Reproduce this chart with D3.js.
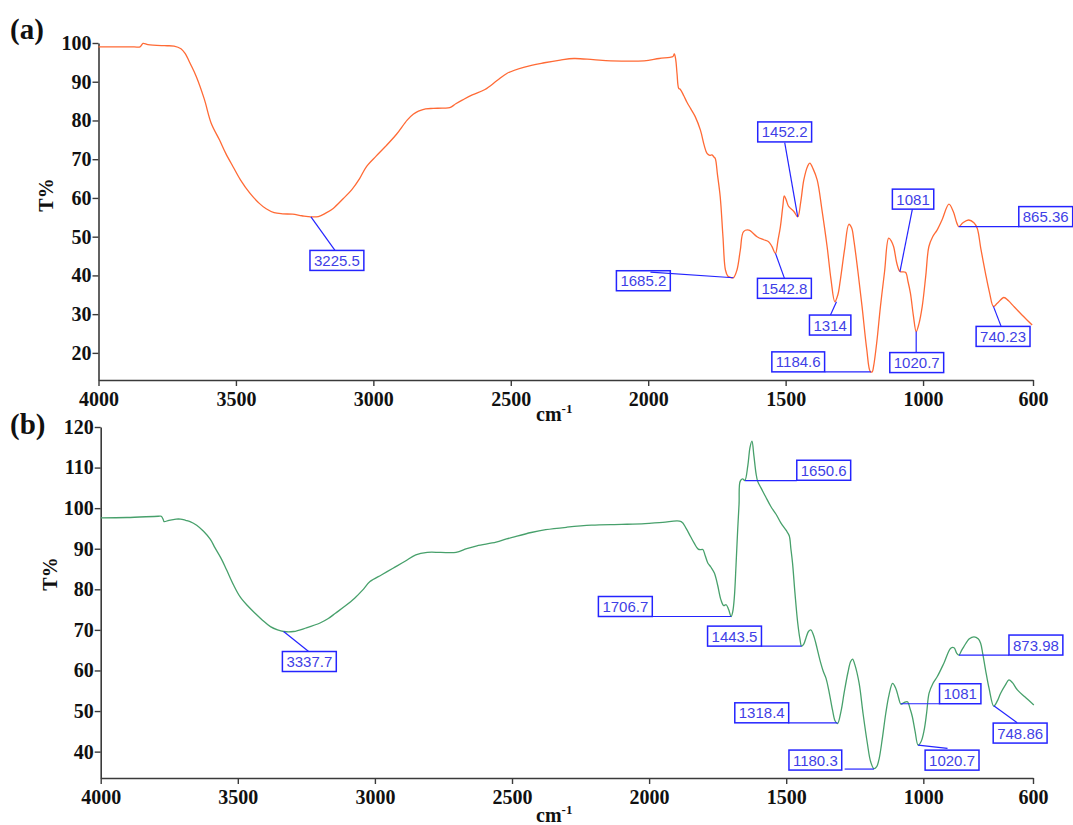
<!DOCTYPE html>
<html>
<head>
<meta charset="utf-8">
<script src="https://cdn.jsdelivr.net/npm/d3@7/dist/d3.min.js"></script>
<style>
  body { margin: 0; background: #fff; }
  svg { display: block; }
</style>
</head>
<body>
<div id="chart"></div>
<script>
"use strict";

// wavenumber ticks shared by both panels
var xTicks = [4000, 3500, 3000, 2500, 2000, 1500, 1000, 600];
var yTicksA = [20, 30, 40, 50, 60, 70, 80, 90, 100];
var yTicksB = [40, 50, 60, 70, 80, 90, 100, 110, 120];

// (a) spectrum
var waveA = [4000, 3870, 3849, 3838, 3820, 3760, 3725, 3700, 3685, 3665, 3644, 3615, 3590, 3560, 3537, 3510,
  3483, 3450, 3415, 3390, 3361, 3330, 3294, 3260, 3227, 3200, 3175, 3146, 3110, 3079, 3050, 3025, 2990, 2957,
  2915, 2877, 2855, 2836, 2810, 2782, 2750, 2722, 2700, 2675, 2640, 2594, 2550, 2513, 2450, 2378, 2320, 2270,
  2200, 2136, 2015, 1960, 1921, 1910, 1905, 1900, 1895, 1889, 1883, 1870, 1859, 1845, 1829, 1810, 1796, 1786,
  1776, 1768, 1760, 1756, 1748, 1738, 1728, 1719, 1710, 1701, 1690, 1677, 1665, 1653, 1634, 1604, 1580, 1562,
  1550, 1537, 1528, 1519, 1510, 1505, 1498, 1489, 1470, 1456, 1445, 1434, 1420, 1412, 1400, 1385, 1368, 1349,
  1335, 1321, 1310, 1301, 1285, 1270, 1260, 1252, 1237, 1222, 1205, 1192, 1185, 1180, 1168, 1155, 1140, 1125,
  1115, 1107, 1095, 1084, 1064, 1055, 1046, 1035, 1025, 1015, 1003, 990, 979, 965, 949, 930, 906, 890, 877,
  870, 855, 834, 815, 803, 790, 773, 758, 744, 730, 706, 690, 670, 640, 603];
var transA = [99.0, 99.0, 99.0, 99.9, 99.6, 99.3, 99.2, 98.5, 97.3, 94.5, 91.3, 85.5, 79.3, 75.0, 71.5, 68.0,
  64.6, 61.3, 58.6, 57.2, 56.2, 55.9, 55.8, 55.4, 55.1, 55.2, 56.0, 57.3, 59.8, 62.1, 65.0, 68.1, 70.8, 73.2,
  76.5, 80.1, 81.6, 82.4, 83.0, 83.1, 83.2, 83.3, 84.3, 85.3, 86.6, 88.0, 90.3, 92.2, 93.8, 94.9, 95.6, 96.0,
  95.7, 95.4, 95.4, 96.0, 96.3, 96.5, 97.2, 95.8, 92.0, 88.3, 88.0, 86.3, 84.7, 83.0, 81.0, 77.5, 73.5, 71.5,
  71.0, 71.1, 70.5, 70.2, 66.0, 60.3, 50.0, 41.4, 39.8, 39.5, 39.4, 41.4, 46.5, 51.3, 51.7, 50.0, 49.2, 48.7,
  47.5, 45.7, 49.0, 52.6, 58.0, 60.5, 59.5, 57.8, 56.5, 55.1, 59.0, 64.6, 68.2, 69.0, 67.5, 64.6, 57.0, 47.4,
  39.0, 33.2, 35.0, 38.8, 47.0, 53.2, 52.3, 49.2, 41.0, 32.0, 21.0, 15.2, 15.1, 16.5, 23.0, 32.0, 41.0, 49.6,
  48.8, 47.4, 43.0, 41.0, 40.8, 38.5, 35.4, 29.5, 25.5, 27.5, 32.0, 40.0, 47.4, 50.0, 51.7, 54.5, 58.4, 56.5,
  53.5, 52.6, 53.6, 54.3, 53.6, 52.2, 47.0, 40.6, 35.5, 32.0, 32.8, 34.3, 33.5, 32.0, 29.8, 27.2];

// (b) spectrum
var waveB = [4000, 3904, 3790, 3779, 3772, 3769, 3751, 3725, 3709, 3690, 3674, 3650, 3625, 3600, 3583, 3560,
  3541, 3515, 3492, 3465, 3437, 3410, 3381, 3355, 3333, 3297, 3250, 3200, 3170, 3144, 3110, 3074, 3045, 3018,
  2975, 2934, 2890, 2851, 2809, 2760, 2704, 2665, 2628, 2558, 2520, 2488, 2430, 2377, 2300, 2210, 2100, 2015,
  1950, 1883, 1865, 1849, 1835, 1821, 1810, 1804, 1795, 1786, 1775, 1762, 1750, 1738, 1728, 1719, 1710, 1701,
  1695, 1689, 1683, 1677, 1672, 1668, 1659, 1651, 1640, 1632, 1625, 1618, 1610, 1604, 1592, 1575, 1556, 1537,
  1519, 1500, 1489, 1483, 1477, 1468, 1458, 1450, 1444, 1436, 1428, 1419, 1410, 1401, 1392, 1383, 1374, 1365,
  1355, 1343, 1331, 1322, 1313, 1300, 1289, 1275, 1265, 1258, 1250, 1234, 1220, 1204, 1192, 1180, 1170, 1161,
  1150, 1137, 1125, 1112, 1100, 1090, 1082, 1070, 1058, 1048, 1040, 1030, 1019, 1008, 997, 988, 979, 965, 949,
  925, 900, 888, 878, 870, 860, 852, 832, 815, 800, 791, 783, 773, 760, 743, 730, 718, 700, 688, 675, 657, 630, 597];
var transB = [97.6, 97.7, 98.0, 98.0, 97.2, 96.7, 97.0, 97.3, 97.3, 97.0, 96.7, 95.8, 94.3, 92.3, 90.2, 87.5,
  84.8, 81.0, 78.2, 76.0, 74.1, 72.4, 70.8, 70.0, 69.6, 69.6, 70.5, 71.7, 72.8, 74.1, 75.8, 77.8, 79.8, 81.9,
  83.6, 85.2, 86.9, 88.5, 89.1, 89.1, 89.1, 90.0, 90.7, 91.6, 92.4, 93.0, 94.0, 94.7, 95.3, 95.8, 96.0, 96.2,
  96.5, 96.7, 95.0, 93.0, 91.3, 89.9, 89.8, 89.8, 88.2, 86.5, 85.5, 84.0, 81.0, 77.4, 76.0, 76.2, 75.0, 73.3,
  74.5, 78.2, 86.0, 94.7, 101.0, 106.6, 107.2, 106.8, 110.5, 115.0, 116.5, 113.0, 108.5, 106.6, 105.0, 102.8,
  100.4, 98.5, 96.3, 94.5, 93.2, 90.0, 86.5, 79.0, 71.7, 67.8, 66.0, 66.5, 68.0, 69.6, 70.0, 68.8, 66.7, 64.2,
  61.8, 59.8, 58.1, 54.5, 50.2, 47.6, 46.9, 50.0, 54.4, 59.5, 62.2, 62.8, 61.5, 56.8, 49.5, 42.0, 37.5, 35.8,
  36.3, 38.3, 43.0, 49.4, 54.0, 56.8, 55.5, 53.2, 51.7, 52.1, 52.3, 50.5, 48.6, 45.0, 41.6, 42.5, 45.3, 49.5,
  54.4, 56.8, 58.5, 61.8, 65.5, 65.6, 64.2, 63.8, 65.0, 65.9, 67.8, 68.3, 67.8, 66.7, 64.0, 60.1, 55.5, 51.2,
  52.5, 54.4, 56.5, 57.7, 57.0, 55.2, 53.5, 51.5];

// picked peaks: label text, where the leader touches the curve
var peakLabelsA = ["3225.5", "1685.2", "1542.8", "1452.2", "1314", "1184.6", "1081", "1020.7", "865.36", "740.23"];
var peakWaveA = [3227, 1690, 1537, 1456, 1315, 1190, 1084, 1025, 870, 744];
var peakTransA = [55.1, 39.4, 45.7, 55.1, 33.2, 15.1, 41.0, 25.5, 52.6, 32.0];

var peakLabelsB = ["3337.7", "1706.7", "1650.6", "1443.5", "1318.4", "1180.3", "1081", "1020.7", "873.98", "748.86"];
var peakWaveB = [3333, 1701, 1650, 1444, 1313, 1180, 1082, 1019, 870, 743];
var peakTransB = [69.6, 73.3, 106.8, 66.0, 47.1, 35.7, 51.8, 41.6, 63.8, 51.3];

// callout layout, px from the anchor: box left, box top, leader end x, leader end y
var calloutA = [[-1, 33.5, 24, 33.5], [-117, -7, -83, -5.7], [-18, 25, 9, 25], [-40, -95, -13, -74.4],
  [-27, 13.3, -6, 13.3], [-99, -20, -46, 0], [-7.6, -82.4, 12.4, -62.4], [-26.4, 21, 0, 21],
  [60, -20, 60, 0], [-17.3, 20, 7.7, 20]];
var calloutB = [[-1.2, 20, 25, 20], [-132.7, -20, -79, 0], [51.7, -20.3, 51.7, 0], [-94, -20, -40.7, 0],
  [-102.7, -20, -49.4, 0], [-85, -19, -29.3, 0], [38.7, -20, 38.7, 0], [7, 5, 29.4, 3.3],
  [50, -20, 50, 0], [-0.6, 17.3, 23.4, 17]];

var width = 1073,
    height = 825,
    serif = "'Liberation Serif', 'Times New Roman', serif",
    sans = "'Liberation Sans', Arial, sans-serif",
    boxColor = "#2424ff",
    labelColor = "#3f3fe6";

var svg = d3.select("#chart").append("svg")
  .attr("width", width)
  .attr("height", height)
  .style("background", "#fff");

function drawPanel(p) {
  var x = d3.scaleLinear().domain([4000, 600]).range([p.left, p.right]);
  var y = d3.scaleLinear().domain(p.yDomain).range([p.bottom, p.top]);
  var g = svg.append("g");

  var xAxis = g.append("g")
    .attr("transform", "translate(0," + p.bottom + ")")
    .call(d3.axisBottom(x).tickValues(xTicks).tickSize(6).tickSizeOuter(0).tickPadding(6).tickFormat(d3.format("d")));
  var yAxis = g.append("g")
    .attr("transform", "translate(" + p.left + ",0)")
    .call(d3.axisLeft(y).tickValues(p.yTicks).tickSize(6).tickSizeOuter(0).tickPadding(1));

  [xAxis, yAxis].forEach(function (a) {
    a.select(".domain").attr("stroke", "#3a3a3a").attr("stroke-width", 1.6);
    a.selectAll(".tick line").attr("stroke", "#3a3a3a").attr("stroke-width", 1.4);
    a.selectAll(".tick text")
      .attr("fill", "#111")
      .style("font-family", serif)
      .style("font-weight", "bold")
      .style("font-size", "20px");
  });

  var pts = p.wave.map(function (w, i) { return [w, p.trans[i]]; });
  g.append("path")
    .datum(pts)
    .attr("fill", "none")
    .attr("stroke", p.color)
    .attr("stroke-width", 1.3)
    .attr("stroke-linejoin", "round")
    .attr("d", d3.line()
      .x(function (d) { return x(d[0]); })
      .y(function (d) { return y(d[1]); })
      .curve(d3.curveCatmullRom.alpha(0.5)));

  // peak callouts
  p.labels.forEach(function (txt, i) {
    var ax = x(p.peakWave[i]),
        ay = y(p.peakTrans[i]),
        c = p.callout[i];
    g.append("line")
      .attr("x1", ax).attr("y1", ay)
      .attr("x2", ax + c[2]).attr("y2", ay + c[3])
      .attr("stroke", boxColor)
      .attr("stroke-width", 1.2);
    var t = g.append("text")
      .attr("fill", labelColor)
      .style("font-family", sans)
      .style("font-size", "15px")
      .attr("text-anchor", "middle")
      .text(txt);
    var w = t.node().getComputedTextLength() + 8;
    g.append("rect")
      .attr("x", ax + c[0]).attr("y", ay + c[1])
      .attr("width", w).attr("height", 20)
      .attr("fill", "none")
      .attr("stroke", boxColor)
      .attr("stroke-width", 1.5);
    t.attr("x", ax + c[0] + w / 2).attr("y", ay + c[1] + 15.5);
  });

  // panel letter, axis titles
  svg.append("text")
    .attr("x", 10).attr("y", p.letterY)
    .style("font-family", serif).style("font-weight", "bold").style("font-size", "29px")
    .attr("fill", "#111")
    .text(p.letter);

  svg.append("text")
    .attr("transform", "translate(" + p.yTitleX + "," + p.yTitleY + ") rotate(-90)")
    .attr("text-anchor", "middle")
    .style("font-family", serif).style("font-weight", "bold").style("font-size", "20px")
    .attr("fill", "#111")
    .text("T%");

  var xt = svg.append("text")
    .attr("x", 536).attr("y", p.xTitleY)
    .style("font-family", serif).style("font-weight", "bold").style("font-size", "20px")
    .attr("fill", "#111");
  xt.append("tspan").text("cm");
  xt.append("tspan").attr("dy", -8).style("font-size", "13px").text("-1");
}

drawPanel({
  letter: "(a)", letterY: 39,
  left: 98.5, right: 1033, top: 43, bottom: 380,
  yDomain: [13, 100], yTicks: yTicksA,
  wave: waveA, trans: transA, color: "#ff6a35",
  labels: peakLabelsA, peakWave: peakWaveA, peakTrans: peakTransA, callout: calloutA,
  yTitleX: 53, yTitleY: 195, xTitleY: 421
});

drawPanel({
  letter: "(b)", letterY: 434,
  left: 100.7, right: 1033, top: 427, bottom: 778,
  yDomain: [33.5, 120], yTicks: yTicksB,
  wave: waveB, trans: transB, color: "#47a06b",
  labels: peakLabelsB, peakWave: peakWaveB, peakTrans: peakTransB, callout: calloutB,
  yTitleX: 57, yTitleY: 574, xTitleY: 822
});
</script>
</body>
</html>
